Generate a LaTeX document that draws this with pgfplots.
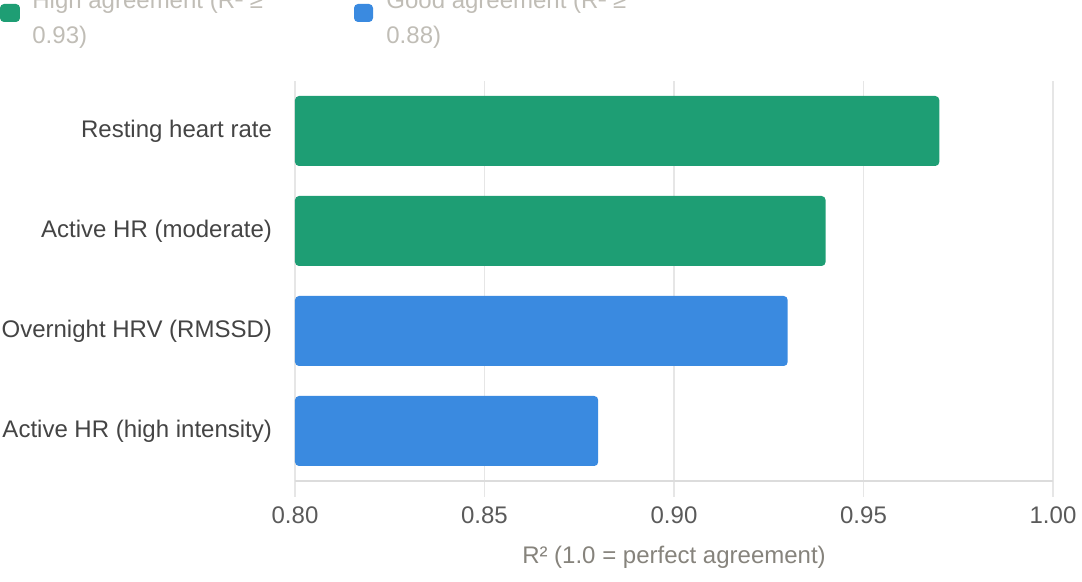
\documentclass[border=0pt]{standalone}
\usepackage{pgfplots}
\pgfplotsset{compat=1.18}
\usepackage{fontspec}
\setmainfont{Liberation Sans}

\definecolor{highgreen}{HTML}{1E9E74}
\definecolor{goodblue}{HTML}{3A8AE0}
\definecolor{gridgrey}{HTML}{E6E6E6}
\definecolor{axisgrey}{HTML}{DCDCDC}
\definecolor{catgrey}{HTML}{444444}
\definecolor{tickgrey}{HTML}{5A5A5A}
\definecolor{labelgrey}{HTML}{86837C}
\definecolor{leggrey}{HTML}{C0BDB6}

\begin{document}
\begin{tikzpicture}
\begin{axis}[
  at={(0,0)}, anchor=south west,
  scale only axis,
  width=379pt, height=200pt,
  xbar, bar width=35pt, bar shift=0pt,
  xmin=0.80, xmax=1.00,
  ymin=-0.5, ymax=3.5,
  y dir=reverse,
  axis lines*=left,
  x axis line style={draw=axisgrey, line width=0.75pt},
  y axis line style={draw=none},
  xmajorgrids,
  grid style={draw=gridgrey, line width=0.75pt},
  xtick={0.80,0.85,0.90,0.95,1.00},
  xticklabels={0.80,0.85,0.90,0.95,1.00},
  tick align=outside,
  major tick length=8pt,
  xtick style={draw=gridgrey, line width=0.75pt},
  ytick={0,1,2,3},
  yticklabels={Resting heart rate,Active HR (moderate),Overnight HRV (RMSSD),Active HR (high intensity)},
  ytick style={draw=none},
  /pgf/number format/assume math mode=true,
  xticklabel style={font=\fontsize{12}{14}\selectfont, text=tickgrey, yshift=-1.5pt},
  yticklabel style={font=\fontsize{12}{14}\selectfont, text=catgrey},
  xlabel={R² (1.0 = perfect agreement)},
  xlabel style={font=\fontsize{12}{14}\selectfont, text=labelgrey,
    at={(axis description cs:0.5,0)}, anchor=center, yshift=-38pt},
  clip=false,
]
\addplot[fill=highgreen, draw=none, rounded corners=2pt] coordinates {(0.97,0) (0.94,1)};
\addplot[fill=goodblue, draw=none, rounded corners=2pt] coordinates {(0.93,2) (0.88,3)};
\end{axis}
% legend (cut at the top edge as in the reference)
\tikzset{legtext/.style={anchor=base west, inner sep=0pt, text=leggrey, font=\fontsize{12}{14}\selectfont}}
\fill[highgreen, rounded corners=2pt] (-147.5pt,229.5pt) rectangle (-137.5pt,238.5pt);
\node[legtext] at (-131.5pt,236pt) {High agreement (R² ≥};
\node[legtext] at (-131.5pt,218.5pt) {0.93)};
\fill[goodblue, rounded corners=2pt] (29.5pt,229.5pt) rectangle (39pt,238.5pt);
\node[legtext] at (45.5pt,236pt) {Good agreement (R² ≥};
\node[legtext] at (45.5pt,218.5pt) {0.88)};
\pgfresetboundingbox
\path[use as bounding box] (-147.5pt,-50.5pt) rectangle (393.5pt,240.5pt);
\end{tikzpicture}
\end{document}
